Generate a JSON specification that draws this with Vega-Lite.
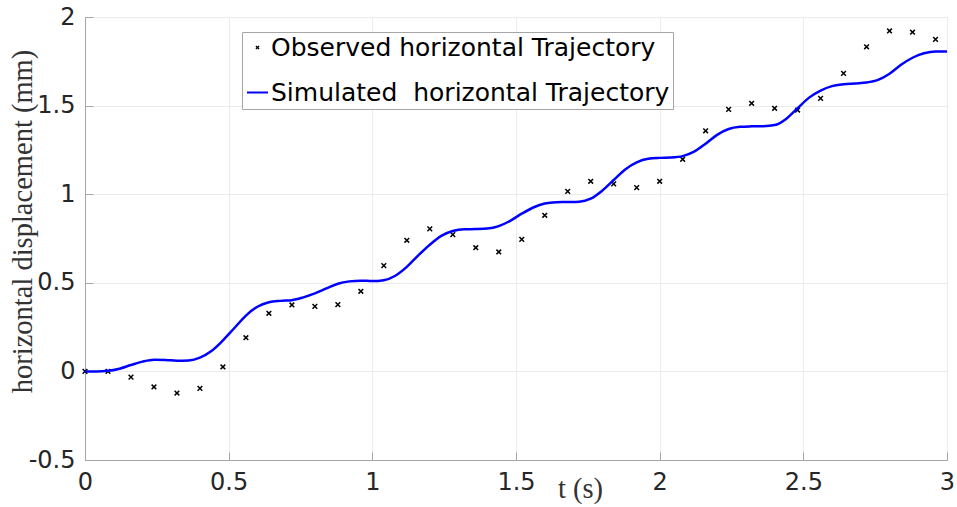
{
  "$schema": "https://vega.github.io/schema/vega-lite/v6.json",
  "autosize": {"type": "none"},
  "width": 862,
  "height": 443,
  "padding": {"left": 85, "top": 17, "right": 10, "bottom": 47},
  "background": "white",
  "config": {
    "view": {"stroke": "#a6a6a6", "strokeWidth": 1},
    "axis": {
      "labelFont": "DejaVu Sans",
      "labelFontSize": 24,
      "labelColor": "#262626",
      "titleFont": "Liberation Serif",
      "titleFontWeight": "normal",
      "titleColor": "#333333",
      "titleFontSize": 28.5,
      "domainColor": "#a6a6a6",
      "tickColor": "#a6a6a6",
      "gridColor": "#ebebeb",
      "gridOpacity": 1,
      "labelFlush": false,
      "labelOverlap": false
    }
  },
  "datasets": {
    "obs": [
      {"t": 0.00, "y": 0.000}, {"t": 0.08, "y": 0.000}, {"t": 0.16, "y": -0.032}, {"t": 0.24, "y": -0.088},
      {"t": 0.32, "y": -0.122}, {"t": 0.40, "y": -0.096}, {"t": 0.48, "y": 0.025}, {"t": 0.56, "y": 0.190},
      {"t": 0.64, "y": 0.328}, {"t": 0.72, "y": 0.375}, {"t": 0.80, "y": 0.367}, {"t": 0.88, "y": 0.377},
      {"t": 0.96, "y": 0.452}, {"t": 1.04, "y": 0.597}, {"t": 1.12, "y": 0.740}, {"t": 1.20, "y": 0.804},
      {"t": 1.28, "y": 0.772}, {"t": 1.36, "y": 0.698}, {"t": 1.44, "y": 0.674}, {"t": 1.52, "y": 0.745},
      {"t": 1.60, "y": 0.881}, {"t": 1.68, "y": 1.016}, {"t": 1.76, "y": 1.073}, {"t": 1.84, "y": 1.058},
      {"t": 1.92, "y": 1.037}, {"t": 2.00, "y": 1.073}, {"t": 2.08, "y": 1.197}, {"t": 2.16, "y": 1.358},
      {"t": 2.24, "y": 1.479}, {"t": 2.32, "y": 1.513}, {"t": 2.40, "y": 1.485}, {"t": 2.48, "y": 1.475},
      {"t": 2.56, "y": 1.541}, {"t": 2.64, "y": 1.682}, {"t": 2.72, "y": 1.832}, {"t": 2.80, "y": 1.921},
      {"t": 2.88, "y": 1.914}, {"t": 2.96, "y": 1.874}
    ],
    "sim": [
      {"t": 0.00, "y": 0.000}, {"t": 0.04, "y": 0.000}, {"t": 0.08, "y": 0.003}, {"t": 0.12, "y": 0.015},
      {"t": 0.16, "y": 0.036}, {"t": 0.20, "y": 0.055}, {"t": 0.24, "y": 0.066}, {"t": 0.28, "y": 0.065},
      {"t": 0.32, "y": 0.060}, {"t": 0.36, "y": 0.062}, {"t": 0.40, "y": 0.078}, {"t": 0.44, "y": 0.115},
      {"t": 0.48, "y": 0.175}, {"t": 0.52, "y": 0.245}, {"t": 0.56, "y": 0.315}, {"t": 0.60, "y": 0.365},
      {"t": 0.64, "y": 0.390}, {"t": 0.68, "y": 0.398}, {"t": 0.72, "y": 0.402}, {"t": 0.76, "y": 0.418},
      {"t": 0.80, "y": 0.440}, {"t": 0.84, "y": 0.468}, {"t": 0.88, "y": 0.495}, {"t": 0.92, "y": 0.508},
      {"t": 0.96, "y": 0.512}, {"t": 1.00, "y": 0.510}, {"t": 1.04, "y": 0.515}, {"t": 1.08, "y": 0.540},
      {"t": 1.12, "y": 0.590}, {"t": 1.16, "y": 0.655}, {"t": 1.20, "y": 0.715}, {"t": 1.24, "y": 0.765},
      {"t": 1.28, "y": 0.792}, {"t": 1.32, "y": 0.802}, {"t": 1.36, "y": 0.803}, {"t": 1.40, "y": 0.806},
      {"t": 1.44, "y": 0.820}, {"t": 1.48, "y": 0.850}, {"t": 1.52, "y": 0.890}, {"t": 1.56, "y": 0.925},
      {"t": 1.60, "y": 0.948}, {"t": 1.64, "y": 0.955}, {"t": 1.68, "y": 0.956}, {"t": 1.72, "y": 0.958},
      {"t": 1.76, "y": 0.975}, {"t": 1.80, "y": 1.020}, {"t": 1.84, "y": 1.080}, {"t": 1.88, "y": 1.140},
      {"t": 1.92, "y": 1.180}, {"t": 1.96, "y": 1.200}, {"t": 2.00, "y": 1.205}, {"t": 2.04, "y": 1.207},
      {"t": 2.08, "y": 1.215}, {"t": 2.12, "y": 1.240}, {"t": 2.16, "y": 1.285}, {"t": 2.20, "y": 1.335},
      {"t": 2.24, "y": 1.368}, {"t": 2.28, "y": 1.380}, {"t": 2.32, "y": 1.383}, {"t": 2.36, "y": 1.384},
      {"t": 2.40, "y": 1.390}, {"t": 2.44, "y": 1.425}, {"t": 2.48, "y": 1.485}, {"t": 2.52, "y": 1.545},
      {"t": 2.56, "y": 1.585}, {"t": 2.60, "y": 1.610}, {"t": 2.64, "y": 1.620}, {"t": 2.68, "y": 1.625},
      {"t": 2.72, "y": 1.630}, {"t": 2.76, "y": 1.645}, {"t": 2.80, "y": 1.680}, {"t": 2.84, "y": 1.730},
      {"t": 2.88, "y": 1.770}, {"t": 2.92, "y": 1.795}, {"t": 2.96, "y": 1.805}, {"t": 3.00, "y": 1.805}
    ]
  },
  "encoding": {
    "x": {
      "field": "t", "type": "quantitative",
      "scale": {"domain": [0, 3], "nice": false, "zero": false},
      "axis": {
        "title": "t (s)",
        "values": [0, 0.5, 1, 1.5, 2, 2.5, 3],
        "labelExpr": "'' + datum.value",
        "tickSize": -8,
        "labelPadding": 18,
        "titleX": 495, "titleY": 37, "titleAnchor": "start", "titleAlign": "center", "titleBaseline": "alphabetic"
      }
    },
    "y": {
      "field": "y", "type": "quantitative",
      "scale": {"domain": [-0.5, 2], "nice": false, "zero": false},
      "axis": {
        "title": "horizontal displacement (mm)",
        "values": [-0.5, 0, 0.5, 1, 1.5, 2],
        "labelExpr": "'' + datum.value",
        "tickSize": -8,
        "labelPadding": 18,
        "titleX": -54, "titleY": 204, "titleAngle": 270, "titleAlign": "center", "titleBaseline": "alphabetic", "titleAnchor": "start"
      }
    },
    "color": {
      "type": "nominal",
      "scale": {
        "domain": ["Observed horizontal Trajectory", "Simulated\u00a0 horizontal Trajectory"],
        "range": ["#000000", "#0000ff"]
      },
      "legend": {
        "title": null,
        "orient": "none",
        "legendX": 157,
        "legendY": 15,
        "direction": "vertical",
        "padding": 3,
        "fillColor": "white",
        "strokeColor": "#a6a6a6",
        "labelFont": "DejaVu Sans",
        "labelFontSize": 25,
        "labelColor": "#000000",
        "labelLimit": 600,
        "labelOffset": 1,
        "rowPadding": 19,
        "symbolSize": 441,
        "symbolStrokeWidth": 2,
        "encode": {
          "symbols": {
            "update": {
              "shape": {"signal": "datum.value === 'Observed horizontal Trajectory' ? 'M-0.15,-0.15L0.15,0.15M-0.15,0.15L0.15,-0.15' : 'M-1,0L1,0'"},
              "stroke": {"signal": "datum.value === 'Observed horizontal Trajectory' ? '#000000' : '#0000ff'"},
              "fill": {"value": "transparent"},
              "strokeWidth": {"signal": "datum.value === 'Observed horizontal Trajectory' ? 1.3 : 2"}
            }
          }
        }
      }
    }
  },
  "layer": [
    {
      "data": {"name": "obs"},
      "mark": {"type": "point", "shape": "M-1,-1L1,1M-1,1L1,-1", "filled": false, "size": 22, "strokeWidth": 1.5, "opacity": 1},
      "encoding": {"color": {"datum": "Observed horizontal Trajectory", "type": "nominal"}}
    },
    {
      "data": {"name": "sim"},
      "mark": {"type": "line", "interpolate": "monotone", "strokeWidth": 2.5},
      "encoding": {"color": {"datum": "Simulated\u00a0 horizontal Trajectory", "type": "nominal"}}
    }
  ]
}
